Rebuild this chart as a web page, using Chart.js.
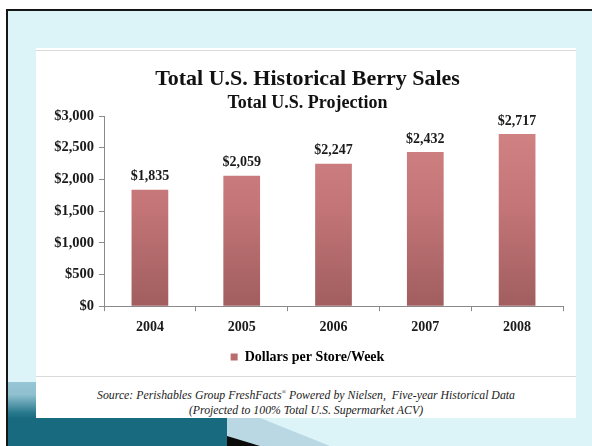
<!DOCTYPE html>
<html>
<head>
<meta charset="utf-8">
<script src="https://cdn.jsdelivr.net/npm/chart.js@4.4.1/dist/chart.umd.min.js"></script>
<style>
  html, body { margin: 0; padding: 0; width: 592px; height: 446px; overflow: hidden; background: #ffffff; }
  #frame { position: absolute; left: 6px; top: 9px; width: 600px; height: 450px; background: #dcf4f8;
           border-left: 2px solid #161616; border-top: 2px solid #161616; }
  #strip { position: absolute; left: 8px; top: 382px; width: 28px; height: 36px;
           background: linear-gradient(to bottom, #97c6d6 0%, #8fc0d0 35%, #2a7a8e 85%, #1a6b80 100%); }
  #teal { position: absolute; left: 8px; top: 418px; width: 219px; height: 28px; background: #186a7f; }
  #deco { position: absolute; left: 0; top: 0; }
  #panel { position: absolute; left: 36px; top: 48px; width: 540px; height: 370px; background: #ffffff; }
  #chartbox { position: absolute; left: 36px; top: 50px; width: 540px; height: 327px;
              border-top: 1px solid #d9d9d9; border-bottom: 1px solid #d9d9d9; box-sizing: border-box; }
  #c { position: absolute; left: 0; top: 0; }
  #source { position: absolute; left: 36px; top: 385px; width: 540px; text-align: center;
            font-family: "Liberation Serif", serif; font-style: italic; font-size: 11.8px; line-height: 15px; color: #222; }
</style>
</head>
<body>
<div id="frame"></div>
<svg id="deco" width="592" height="446">
  <polygon points="227,418 260,418 330,446 227,446" fill="#b9d8e3"/>
  <polygon points="227,436 260,446 227,446" fill="#0b0b0b"/>
</svg>
<div id="strip"></div>
<div id="teal"></div>
<div id="panel"></div>
<div id="chartbox"><canvas id="c" width="540" height="327"></canvas></div>
<div id="source">Source: Perishables Group FreshFacts<sup style="font-size:6px">®</sup> Powered by Nielsen,&nbsp; Five-year Historical Data<br>(Projected to 100% Total U.S. Supermarket ACV)</div>
<script>
const categories = ['2004', '2005', '2006', '2007', '2008'];
const salesValues = [1835, 2059, 2247, 2432, 2717];
const yTickLabels = ['$0', '$500', '$1,000', '$1,500', '$2,000', '$2,500', '$3,000'];
const seriesName = 'Dollars per Store/Week';
const titleText = 'Total U.S. Historical Berry Sales';
const subtitleText = 'Total U.S. Projection';

const SERIF = '"Liberation Serif", "Times New Roman", serif';
const TXT = '#1a1a1a';

function barFill(ctx) {
  const chart = ctx.chart;
  const area = chart.chartArea;
  if (!area) return '#bd7071';
  const g = chart.ctx.createLinearGradient(0, area.top, 0, area.bottom);
  g.addColorStop(0, '#d38586');
  g.addColorStop(0.5, '#c27476');
  g.addColorStop(1, '#a15e5f');
  return g;
}

const valueLabels = {
  id: 'valueLabels',
  afterDatasetsDraw(chart) {
    const ctx = chart.ctx;
    const meta = chart.getDatasetMeta(0);
    ctx.save();
    ctx.font = 'bold 14px ' + SERIF;
    ctx.fillStyle = TXT;
    ctx.textAlign = 'center';
    ctx.textBaseline = 'bottom';
    meta.data.forEach((bar, i) => {
      const v = chart.data.datasets[0].data[i];
      ctx.fillText('$' + v.toLocaleString('en-US'), bar.x, bar.y - 6);
    });
    ctx.restore();
  }
};

new Chart(document.getElementById('c'), {
  type: 'bar',
  data: {
    labels: categories,
    datasets: [{
      label: seriesName,
      data: salesValues,
      backgroundColor: barFill,
      borderWidth: 0,
      categoryPercentage: 1.0,
      barPercentage: 0.4
    }]
  },
  options: {
    responsive: false,
    animation: false,
    devicePixelRatio: 1,
    layout: { padding: { left: 16, right: 13, top: 0, bottom: 4 } },
    plugins: {
      title: {
        display: true, text: titleText, color: '#111',
        font: { family: SERIF, size: 22, weight: 'bold' },
        padding: { top: 15, bottom: 0 }
      },
      subtitle: {
        display: true, text: subtitleText, color: '#111',
        font: { family: SERIF, size: 18, weight: 'bold' },
        padding: { top: 0, bottom: 2 }
      },
      legend: {
        display: true, position: 'bottom',
        labels: {
          boxWidth: 7, boxHeight: 7, color: TXT, padding: 6,
          font: { family: SERIF, size: 14, weight: 'bold' },
          generateLabels(chart) {
            return [{ text: seriesName, fillStyle: '#b96d6f', strokeStyle: '#b96d6f', lineWidth: 0, datasetIndex: 0 }];
          }
        }
      },
      tooltip: { enabled: false }
    },
    scales: {
      x: {
        grid: { display: true, drawOnChartArea: false, drawTicks: true, tickLength: 5, color: '#8a8a8a', offset: true },
        border: { display: true, color: '#8a8a8a' },
        ticks: { color: TXT, padding: 8, font: { family: SERIF, size: 14, weight: 'bold' } }
      },
      y: {
        min: 0, max: 3000,
        afterFit(scale) { scale.width = 52; },
        grid: { display: true, drawOnChartArea: false, drawTicks: true, tickLength: 5, color: '#8a8a8a' },
        border: { display: true, color: '#8a8a8a' },
        ticks: {
          stepSize: 500, color: TXT, padding: 5,
          font: { family: SERIF, size: 14.5, weight: 'bold' },
          callback(value, index) { return yTickLabels[index]; }
        }
      }
    }
  },
  plugins: [valueLabels]
});
</script>
</body>
</html>
